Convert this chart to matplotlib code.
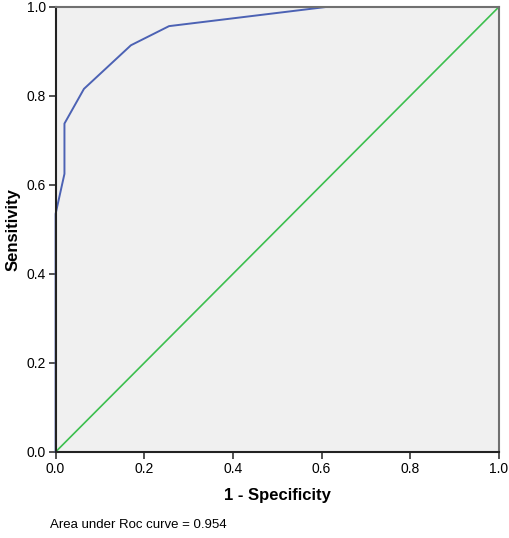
import matplotlib.pyplot as plt

# ROC curve points
fpr = [0.0, 0.0, 0.02, 0.02, 0.064, 0.17, 0.256, 0.61, 1.0]
tpr = [0.0, 0.535, 0.625, 0.738, 0.816, 0.914, 0.957, 1.0, 1.0]
ref = [0.0, 1.0]
ticks = [0.0, 0.2, 0.4, 0.6, 0.8, 1.0]
auc = 0.954

plt.rcParams['font.family'] = ['Liberation Sans', 'DejaVu Sans']

fig = plt.figure(figsize=(5.1, 5.38), dpi=100)
ax = fig.add_axes([0.109, 0.160, 0.869, 0.827])
ax.set_facecolor('#f0f0f0')

ax.plot(ref, ref, color='#3cbf4e', linewidth=1.2)
ax.plot(fpr, tpr, color='#4c62b4', linewidth=1.4, clip_on=False)

ax.set_xlim(0, 1)
ax.set_ylim(0, 1)
ax.set_xticks(ticks)
ax.set_yticks(ticks)
ax.set_xticklabels([f'{t:.1f}' for t in ticks], fontsize=10)
ax.set_yticklabels([f'{t:.1f}' for t in ticks], fontsize=10)
ax.tick_params(direction='out', length=5, width=1.2, color='#333333', pad=2)

for side in ['left', 'bottom']:
    ax.spines[side].set_color('#222222')
    ax.spines[side].set_linewidth(1.5)
for side in ['top', 'right']:
    ax.spines[side].set_color('#707070')
    ax.spines[side].set_linewidth(1.5)

ax.set_xlabel('1 - Specificity', fontsize=12, fontweight='bold', labelpad=9)
ax.set_ylabel('Sensitivity', fontsize=12, fontweight='bold', labelpad=4)

fig.text(50 / 510, 1 - 525 / 538, f'Area under Roc curve = {auc}',
         fontsize=9.5, va='center', ha='left')

plt.savefig('out.png', dpi=100)
plt.close()
